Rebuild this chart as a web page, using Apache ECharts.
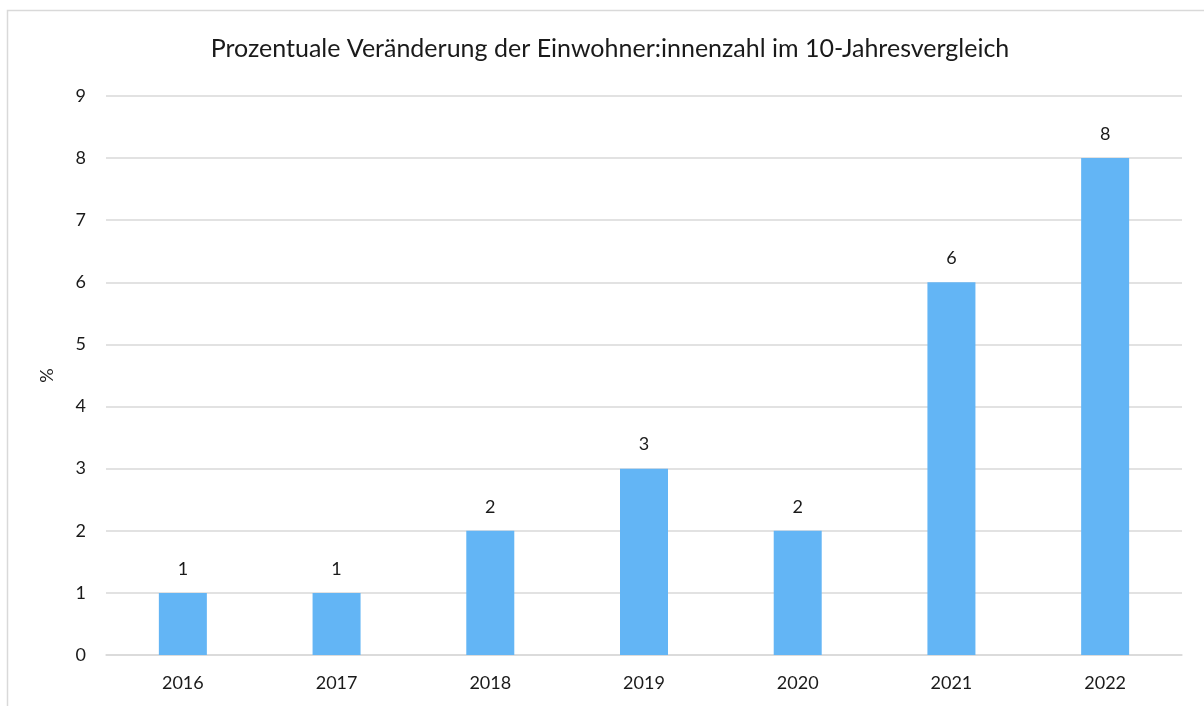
<!DOCTYPE html>
<html><head><meta charset="utf-8">
<script src="https://cdn.jsdelivr.net/npm/echarts@6/dist/echarts.min.js"></script>
<style>html,body{margin:0;padding:0;background:#fff}#c{width:1204px;height:706px}</style>
</head><body><div id="c"></div>
<script>
var titleText = 'Prozentuale Veränderung der Einwohner:innenzahl im 10-Jahresvergleich';
var categories = ['2016','2017','2018','2019','2020','2021','2022'];
var values = [1,1,2,3,2,6,8];
var yTicks = [0,1,2,3,4,5,6,7,8,9];
var yAxisName = '%';
var FONT = 'Lato, Open Sans, sans-serif';
var chart = echarts.init(document.getElementById('c'), null, {renderer:'canvas'});
chart.setOption({
  animation:false,
  backgroundColor:'#fff',
  graphic:[{type:'rect', shape:{x:7.5,y:10.5,width:1400,height:900}, style:{fill:'none',stroke:'#d9d9d9',lineWidth:1.5}, silent:true}],
  title:{text:titleText, left:605, top:31, textAlign:'center',
    textStyle:{fontFamily:FONT,fontSize:25,fontWeight:'normal',color:'#1a1a1a'}},
  grid:{left:106, right:22, top:96, bottom:51, containLabel:false},
  xAxis:{type:'category', data:categories,
    axisLine:{lineStyle:{color:'#d9d9d9',width:1.5}}, axisTick:{show:false},
    axisLabel:{fontFamily:FONT,fontSize:18,color:'#1a1a1a',margin:19}},
  yAxis:{type:'value', min:yTicks[0], max:yTicks[yTicks.length-1], interval:1,
    name:yAxisName, nameLocation:'middle', nameGap:50, nameRotate:90,
    nameTextStyle:{fontFamily:FONT,fontSize:18,color:'#1a1a1a'},
    axisLine:{show:false}, axisTick:{show:false},
    axisLabel:{fontFamily:FONT,fontSize:18,color:'#1a1a1a',margin:20},
    splitLine:{lineStyle:{color:'#d9d9d9',width:1.5}}},
  series:[{type:'bar', data:values, barWidth:48,
    itemStyle:{color:'#63b5f5'},
    label:{show:true, position:'top', distance:15, fontFamily:FONT, fontSize:18, color:'#1a1a1a'}}]
});
</script></body></html>
